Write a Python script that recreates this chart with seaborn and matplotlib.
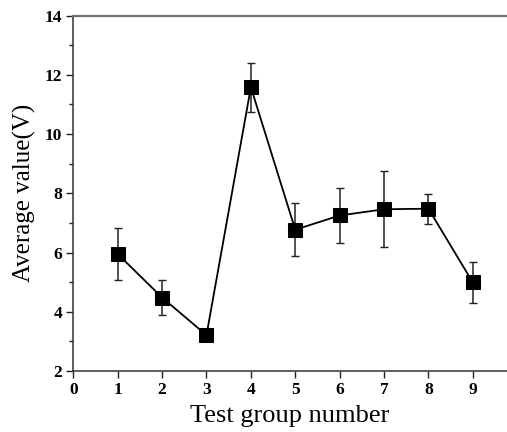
import matplotlib
matplotlib.use("Agg")
import matplotlib.pyplot as plt
import seaborn as sns
import pandas as pd
from matplotlib.ticker import MultipleLocator

groups = [1, 2, 3, 4, 5, 6, 7, 8, 9]
means = [5.95, 4.48, 3.21, 11.58, 6.77, 7.25, 7.46, 7.48, 4.99]
errors = [0.87, 0.58, 0.05, 0.83, 0.90, 0.92, 1.29, 0.51, 0.68]
xticks = [0, 1, 2, 3, 4, 5, 6, 7, 8, 9]
yticks = [2, 4, 6, 8, 10, 12, 14]

df = pd.DataFrame({"group": groups, "mean": means, "err": errors})

sns.set_theme(style="ticks")
plt.rcParams["font.family"] = ["Liberation Serif", "DejaVu Serif"]

fig = plt.figure(figsize=(5.07, 4.32), dpi=100)
ax = fig.add_axes([0.1446, 0.1412, 0.8554, 0.8228])

ax.errorbar(df["group"], df["mean"], yerr=df["err"], fmt="none",
            ecolor="#222222", elinewidth=1.1, capsize=3.2, capthick=1.0, zorder=2)
sns.lineplot(data=df, x="group", y="mean", ax=ax, color="black", linewidth=1.3,
             marker="s", markersize=9.5, markeredgecolor="black",
             markerfacecolor="black", zorder=3)

ax.set_xlim(0, 9.77)
ax.set_ylim(2, 14)
ax.set_xticks(xticks)
ax.set_yticks(yticks)
ax.yaxis.set_minor_locator(MultipleLocator(1))

ax.tick_params(axis="both", which="major", direction="out", length=5, width=1.0,
               colors="#222222", labelsize=12.5, pad=3)
ax.tick_params(axis="y", which="minor", direction="out", length=3, width=1.0,
               colors="#222222")
for lab in ax.get_xticklabels() + ax.get_yticklabels():
    lab.set_fontweight("bold")
    lab.set_color("black")

ax.spines["right"].set_visible(False)
for s in ["left", "bottom"]:
    ax.spines[s].set_color("#333333")
    ax.spines[s].set_linewidth(1.1)
ax.spines["top"].set_color("#6e6e6e")
ax.spines["top"].set_linewidth(1.6)

ax.set_xlabel("Test group number", fontsize=19, color="black", labelpad=5)
ax.set_ylabel("Average value(V)", fontsize=18, color="black", labelpad=6)

fig.savefig("out.png", dpi=100)
